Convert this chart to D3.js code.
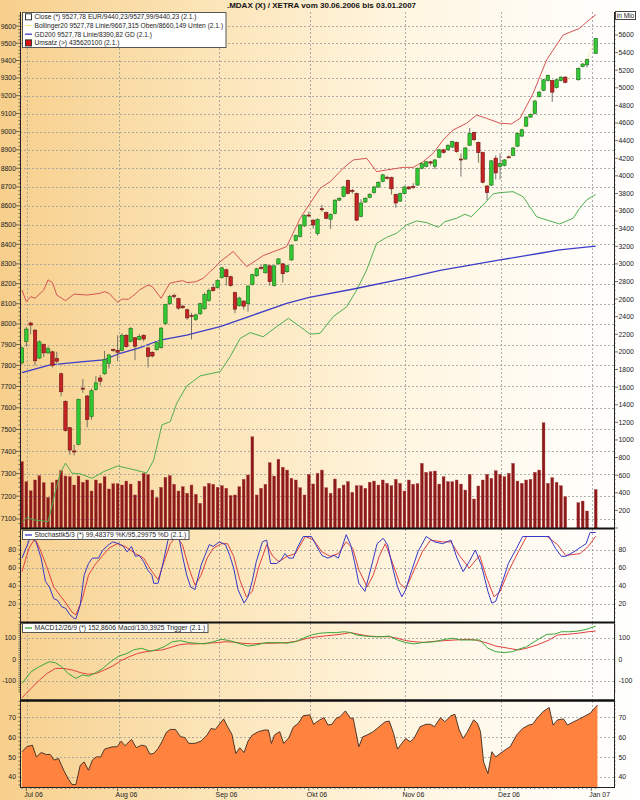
<!DOCTYPE html>
<html><head><meta charset="utf-8">
<script src="https://cdn.jsdelivr.net/npm/d3@7/dist/d3.min.js"></script>
<style>body{margin:0;background:#fff}svg{display:block}text{font-family:"Liberation Sans",Arial,sans-serif}</style>
</head><body><svg id="c" width="640" height="800"></svg>
<script>
// weekday index 0 = 30.06.2006 ... 132 = 02.01.2007 ; null = no trading (25./26.12., 01.01.)
const open=[7812,7915,8005,7970,7835,7900,7860,7865,7833,7760,7630,7508,7402,7432,7692,7655,7560,7685,7740,7760,7810,7877,7872,7872,7945,7915,7933,7925,7945,7884,7863,7875,7885,8002,8100,8140,8125,8088,8070,8042,8022,8050,8075,8115,8180,8180,8230,8270,8235,8155,8090,8113,8100,8195,8240,8282,8255,8290,8190,8300,8300,8260,8320,8420,8440,8495,8552,8525,8455,8585,8565,8530,8560,8630,8650,8735,8682,8665,8545,8620,8645,8670,8700,8730,8752,8750,8660,8625,8665,8700,8702,8710,8800,8810,8835,8810,8860,8900,8900,8915,8940,8850,8850,8925,8995,8940,8885,8705,8710,8855,8810,8815,8862,8870,8920,8975,9030,9080,9100,9195,9230,9285,9285,9245,9285,9305,null,null,9290,9365,9375,null,9440.23];
const high=[7890,7985,8010,7975,7920,7905,7890,7870,7865,7765,7635,7510,7430,7642,7735,7660,7690,7750,7755,7870,7855,7880,7945,7955,7950,7985,7935,7950,7950,7890,7866,7915,7985,8100,8145,8150,8130,8095,8075,8055,8050,8105,8155,8175,8200,8222,8285,8275,8240,8160,8135,8118,8192,8250,8280,8295,8300,8295,8295,8330,8305,8295,8400,8450,8505,8555,8570,8530,8535,8605,8570,8560,8635,8645,8705,8740,8690,8670,8635,8645,8668,8705,8730,8770,8760,8755,8665,8670,8705,8705,8720,8805,8830,8840,8840,8850,8905,8905,8930,8950,8945,8880,8915,9020,9000,8945,8890,8710,8845,8870,8880,8850,8868,8915,8995,9015,9085,9100,9175,9225,9295,9320,9290,9295,9310,9310,null,null,9360,9385,9410,null,9527.99];
const low=[7805,7890,7950,7800,7830,7840,7855,7790,7810,7653,7490,7385,7382,7428,7670,7510,7545,7680,7705,7755,7785,7865,7820,7868,7885,7910,7826,7920,7915,7790,7838,7870,7880,7995,8095,8125,8070,8075,8020,7925,8015,8045,8070,8110,8160,8175,8225,8190,8185,8053,8085,8070,8060,8190,8235,8270,8250,8190,8185,8295,8205,8255,8315,8415,8435,8490,8540,8480,8445,8570,8530,8480,8555,8625,8645,8660,8665,8520,8540,8615,8640,8665,8695,8725,8740,8660,8590,8620,8660,8685,8690,8705,8795,8805,8815,8795,8855,8880,8895,8910,8885,8755,8845,8920,8950,8830,8720,8630,8705,8740,8740,8810,8855,8865,8915,8970,9025,9075,9095,9190,9225,9280,9165,9240,9280,9270,null,null,9285,9360,9360,null,9440.23];
const close=[7884,7975,7995,7822,7913,7860,7880,7800,7820,7675,7495,7406,7398,7640,7688,7545,7680,7717,7725,7828,7850,7873,7863,7945,7890,7978,7892,7940,7927,7843,7845,7910,7980,8097,8135,8135,8078,8080,8030,8038,8045,8100,8145,8165,8165,8215,8280,8235,8190,8073,8128,8088,8188,8245,8275,8280,8295,8210,8290,8325,8250,8290,8395,8445,8500,8550,8550,8500,8528,8582,8535,8555,8630,8640,8700,8665,8678,8525,8615,8640,8660,8700,8725,8765,8748,8690,8615,8665,8700,8690,8698,8800,8825,8835,8828,8845,8900,8885,8925,8945,8890,8848,8910,8990,8955,8885,8725,8670,8840,8775,8825,8845,8860,8910,8990,9010,9080,9095,9170,9220,9290,9315,9220,9290,9305,9275,null,null,9355,9380,9405,null,9527.78];
// Umsatz in Mio
const volume=[753,526,423,545,594,514,348,514,545,650,590,582,488,590,519,545,420,545,507,582,443,503,503,488,533,499,375,533,621,605,431,344,462,575,594,496,420,469,394,488,382,280,469,507,496,462,480,451,367,375,469,553,602,1036,375,451,496,741,590,780,689,658,564,545,457,375,609,500,621,658,457,394,556,451,488,526,405,480,480,451,519,533,488,545,507,480,553,507,420,545,496,503,734,632,639,647,499,582,526,526,545,499,431,609,329,477,545,609,564,650,609,582,621,734,533,507,545,553,632,658,1195,507,571,519,480,355,null,null,287,306,193,null,435.62];
// [weekday index, value]
const bbUpper=[[0,8168],[1,8110],[2,8135],[3,8127],[5,8168],[6,8219],[7,8205],[8,8143],[10,8115],[12,8148],[15,8143],[18,8152],[19,8160],[20,8152],[22,8107],[23,8123],[24.5,8122],[26,8147],[27,8168],[29,8193],[30,8185],[32,8127],[34,8202],[35.6,8210],[37,8215],[38,8205],[40,8210],[41.7,8227],[43.3,8261],[44.4,8283],[45.6,8311],[48.6,8363],[51.7,8286],[55.5,8342],[60.9,8388],[64,8535],[66.3,8614],[68.6,8693],[70.9,8728],[73.9,8800],[76.2,8845],[79.3,8854],[81.6,8782],[83.9,8791],[87.7,8805],[90,8805],[92.3,8836],[94.6,8881],[96.9,8954],[99.2,9009],[102.3,9046],[104.6,9092],[106.9,9073],[110,9046],[112.6,9042],[114.6,9073],[117.6,9213],[120.7,9403],[124.5,9548],[128.3,9587],[130,9626],[132,9667.3]];
const bbLower=[[0,7085],[1.2,7107],[2.7,7096],[4.6,7092],[6,7089],[6.5,7125],[7.7,7223],[8.8,7302],[10,7347],[11.5,7302],[13.4,7299],[16.1,7279],[18.8,7309],[22,7334],[24.4,7324],[28.7,7303],[30.3,7361],[32.2,7521],[34.1,7536],[35.6,7621],[37.9,7702],[41,7750],[45.6,7770],[47.9,7842],[50.2,7930],[52.5,7958],[55.5,7938],[58.6,7987],[61.3,8028],[64,7987],[66.3,7950],[68.6,7955],[71.6,8036],[74.7,8085],[77,8168],[79.3,8269],[81.6,8405],[83.9,8436],[86.2,8457],[88.5,8500],[90.8,8521],[93.1,8512],[95.8,8488],[97.3,8517],[100,8535],[101.9,8556],[103.4,8543],[106.1,8605],[108.4,8663],[110,8670],[113,8675],[115.3,8648],[118.4,8543],[120.7,8526],[123.7,8505],[126.8,8535],[128.3,8587],[129.9,8631],[132,8660.1]];
const gd200=[[0,7765],[6.5,7802],[14.2,7818],[18.8,7826],[22.6,7858],[27.2,7885],[31.8,7922],[37.9,7946],[41,7963],[45.6,7987],[53.2,8044],[60.9,8102],[66.1,8132],[76,8172],[88.1,8227],[96.2,8267],[110,8320],[119.2,8354],[123.7,8371],[132,8390.8]];
const stochK=[[0,71],[2,95],[3.3,88],[4.4,71],[5.4,45],[6.3,39],[7.3,26],[8.2,24],[9.1,17],[10.1,15],[11,8],[12,4],[12.4,3.5],[13.4,19],[14.3,52],[15.3,65],[16.2,71],[17.6,71],[18.6,80],[20,86],[20.9,89],[22.3,87],[23.3,84],[24.2,78],[25.2,84],[26.1,73],[27,74],[28,67],[28.9,58],[29.9,52],[30.3,43],[31.3,43],[32.2,60],[33.6,91],[34.6,98],[36,97],[36.9,74],[37.9,52],[38.8,39],[39.8,36],[41.2,63],[42.1,74],[43.1,86],[44,84],[45.4,89],[46.8,86],[47.8,74],[48.7,60],[49.7,36],[51.1,21],[52,28],[53,46],[53.9,67],[55.3,89],[56.3,91],[57.2,65],[58.6,65],[59.6,69],[60.5,76],[61.4,71],[62.4,71],[63.3,82],[64.7,95],[66.6,95],[67.6,86],[69,74],[70.4,71],[71.8,74],[72.8,71],[74.6,97],[75.6,86],[76.5,67],[77.5,43],[78.9,34],[80.3,60],[81.7,87],[83.1,93],[84.1,86],[85.5,56],[86.4,39],[87.4,28],[88.3,36],[89.3,52],[91.1,78],[93,95],[94.9,89],[96.8,87],[98.7,91],[100.1,71],[101.5,56],[102.9,67],[104.3,80],[105.7,63],[107.2,34],[108.1,21],[109,23],[110.5,44],[111.9,65],[113.8,82],[115.2,95],[118.5,95],[121.3,95],[122.7,82],[124.1,73],[125.1,73],[127,78],[128.8,84],[129.8,87],[130.7,99.5],[132,99.48]];
const stochD=[[0,56],[1.6,82],[3,93],[4.4,78],[5.8,60],[7.3,39],[8.7,30],[10.1,21],[11.5,11],[12.4,8],[13.9,26],[15.3,52],[16.7,63],[18.6,74],[20,82],[21.9,87],[23.7,84],[26.1,76],[28,71],[29.9,56],[31.3,47],[32.7,67],[34.1,87],[35.5,95],[36.9,86],[38.4,60],[39.8,41],[41.2,52],[42.6,71],[44,82],[45.9,87],[47.3,87],[48.7,73],[50.1,47],[51.6,28],[53,34],[54.4,60],[56.3,86],[57.7,73],[59.1,67],[61,73],[62.9,76],[65.2,95],[67.1,91],[69,78],[70.9,73],[72.8,76],[74.6,89],[76.1,82],[77.5,58],[79.4,39],[80.8,52],[82.2,73],[83.6,87],[85,69],[86.9,43],[88.3,37],[89.7,52],[92.1,78],[94,91],[96.8,89],[98.7,89],[100.6,74],[102.9,60],[105.3,74],[106.7,52],[108.6,28],[110,34],[111.9,56],[114.2,78],[116.1,95],[120.8,95],[123.2,86],[125.1,74],[128.4,76],[130.3,84],[132,95.3]];
const macd=[[0,-111],[2.1,-57],[4,-34],[6.3,-11],[7.7,-16],[9.1,-34],[10.6,-65],[12.4,-88],[13.9,-72],[15.3,-77],[16.7,-65],[18.6,-42],[20.4,-11],[22.3,15],[24.2,27],[25.6,43],[27.5,51],[29.4,38],[30.8,43],[32.7,58],[34.6,81],[36.5,86],[38.4,77],[40.2,74],[42.1,71],[44,81],[45.9,92],[47.8,86],[49.7,74],[52,61],[53.9,66],[56.3,77],[59.1,77],[61,74],[62.9,81],[64.7,97],[66.6,112],[68.5,120],[70.4,123],[72.3,123],[74.2,127],[75.6,123],[77,112],[78.9,107],[80.8,104],[82.7,104],[84.5,107],[86.4,89],[88.3,77],[90.2,71],[92.1,77],[94.9,81],[97.3,92],[99.1,97],[101,89],[103.4,89],[105.3,89],[107.2,51],[109,35],[110.9,31],[112.8,35],[114.2,46],[116.1,58],[118.5,89],[120.8,115],[122.7,117],[124.1,127],[126,127],[127.9,130],[129.8,138],[132,152.86]];
const trigger=[[0,-177],[2.1,-134],[4,-96],[5.8,-65],[7.7,-42],[9.6,-42],[11.5,-49],[13.4,-61],[15.3,-69],[17.1,-65],[19,-49],[20.9,-31],[22.8,-6],[24.7,12],[26.6,27],[28.5,35],[30.3,40],[32.2,43],[34.1,54],[36,66],[37.9,71],[40.2,71],[42.6,74],[45,77],[46.8,81],[48.7,79],[50.6,74],[53,71],[55.3,74],[58.1,74],[61,77],[63.3,84],[65.7,97],[68,104],[70.4,109],[73.2,115],[75.6,123],[77.5,115],[79.8,107],[82.2,104],[84.5,104],[86.4,97],[88.3,86],[90.2,81],[92.5,78],[94.9,83],[97.3,86],[99.6,89],[102.4,92],[104.3,89],[106.7,77],[109,61],[111.9,51],[114.2,43],[116.1,51],[118.5,66],[121.3,89],[123.2,112],[125.5,115],[127.9,120],[130.3,127],[132,130.39]];
const osc=[[0,52.7],[1.1,55.2],[2.4,56],[3.3,50.1],[4.4,52.3],[5.6,51.3],[6.5,51.3],[7.4,48.5],[8.4,49.3],[9.6,43.4],[10.6,39.2],[11.5,36.2],[12.4,36.2],[13.4,45.9],[14.3,47.6],[15.3,43.4],[16.2,48.5],[17.1,50.1],[18.1,50.1],[19,54],[20,54.7],[20.9,55.2],[21.9,55.2],[22.8,58],[23.7,55.7],[25.2,58.9],[26.3,54.7],[27.5,56],[28.5,55.5],[29.4,51.5],[30.3,51.8],[31.3,54.3],[32.2,57.7],[33.2,62.4],[34.1,63.9],[35.3,63.9],[36.5,60.2],[37.4,59.9],[38.4,56.9],[39.8,56.9],[41.2,58],[42.6,61.1],[43.5,64.4],[44.5,63.9],[45.4,66.5],[46.4,69.2],[47.3,65.3],[48.3,61.4],[49.2,51.8],[50.1,54.7],[51.1,52.3],[52,58],[53,61.1],[54.4,62.8],[55.8,63.6],[56.7,63.6],[57.4,56.9],[58.1,61.1],[59.3,62.8],[60.2,56.9],[61.4,59.7],[62.4,65],[63.6,67],[64.7,70.8],[66.2,71.2],[67.1,66.5],[68.5,68.7],[69.5,69.8],[70.4,66.1],[71.3,66.5],[72.3,69.5],[73.2,70.3],[74.4,73.2],[75.6,69.5],[76.2,69.5],[77.5,55.2],[78.4,60.2],[79.4,61.1],[80.8,62.8],[82.2,65.3],[83.6,67.8],[84.5,68.1],[85.5,61.9],[86.4,54],[87.4,56.9],[88.3,59.4],[89.3,57.7],[90.2,59.4],[91.6,65.3],[93,66.5],[94,66.5],[94.9,65.3],[96.3,69.8],[97.3,67.8],[98.7,70.8],[99.6,71.5],[100.6,63.6],[101.5,59.4],[102.4,62.4],[103.9,68.7],[104.8,67],[105.5,62.8],[106.2,47.6],[107.2,41.7],[108.1,52.7],[109,50.1],[110,51.8],[111.4,54],[112.3,55.2],[113.8,61.1],[115.2,64.4],[116.6,66.1],[117.5,66.5],[118.5,69.5],[119.9,72.9],[121.3,74.9],[122.2,66.1],[123.2,68.7],[124.6,69.2],[125.5,66.1],[127,67.8],[128.8,69.8],[130.7,72],[132.4,76.2]];
const monthIdx=[1,22,45,66,88,110,131];
const monthLabels=["Jul 06","Aug 06","Sep 06","Okt 06","Nov 06","Dez 06","Jan 07"];
const priceTicks=d3.range(7100,9601,100);
const volTicks=d3.range(200,5601,200);
const stochTicks=[20,40,60,80], macdTicks=[-100,0,100], oscTicks=[40,50,60,70];

const svg=d3.select("#c");
const PL=20, PR=614;
const P={main:[12,528],stoch:[529,622],macd:[623,700],osc:[701,787]};
const defs=svg.append("defs");
const g=defs.append("linearGradient").attr("id","bg").attr("x1",0).attr("x2",1).attr("y1",0).attr("y2",0);
[[0,"#f7cf8c"],[0.3,"#fbe3b4"],[0.65,"#fff6e2"],[0.9,"#fffdf8"],[1,"#ffffff"]].forEach(s=>g.append("stop").attr("offset",s[0]).attr("stop-color",s[1]));
svg.append("rect").attr("width",640).attr("height",800).attr("fill","url(#bg)");

const x=d3.scaleLinear().domain([0,132]).range([22,595.7]);
const yP=d3.scaleLog().domain([7100,9300]).range([519,78]);
const yV=d3.scaleLinear().domain([0,5600]).range([528,35]);
const yS=d3.scaleLinear().domain([0,100]).range([622,532]);
const yM=d3.scaleLinear().domain([-100,100]).range([681,637.6]);
const yO=d3.scaleLinear().domain([40,70]).range([777,717.3]);

const grid=svg.append("g").attr("stroke","#9a9a9a").attr("stroke-width",0.8).attr("stroke-dasharray","2,2");
function hgrid(scale,vals){vals.forEach(v=>grid.append("line").attr("x1",PL).attr("x2",PR).attr("y1",Math.round(scale(v))+0.5).attr("y2",Math.round(scale(v))+0.5));}
hgrid(yP,priceTicks);hgrid(yS,stochTicks);hgrid(yM,macdTicks);hgrid(yO,oscTicks);
Object.values(P).forEach(([t,b])=>monthIdx.forEach(m=>grid.append("line").attr("x1",Math.round(x(m))+1.5).attr("x2",Math.round(x(m))+1.5).attr("y1",t).attr("y2",b)));

// volume
svg.append("g").selectAll("rect").data(volume.map((v,i)=>[i,v]).filter(d=>d[1]!=null)).join("rect")
 .attr("x",d=>x(d[0])-1.4).attr("width",2.8).attr("y",d=>yV(d[1])).attr("height",d=>528-yV(d[1]))
 .attr("fill","#8c1a1a").attr("stroke","#a83a3a").attr("stroke-width",0.4);

const line=(ys)=>d3.line().x(d=>x(d[0])).y(d=>ys(d[1]));
svg.append("path").attr("d",line(yP)(bbUpper)).attr("fill","none").attr("stroke","#d45454").attr("stroke-width",1);
svg.append("path").attr("d",line(yP)(bbLower)).attr("fill","none").attr("stroke","#4fae4f").attr("stroke-width",1);
svg.append("path").attr("d",line(yP)(gd200)).attr("fill","none").attr("stroke","#3d3dc8").attr("stroke-width",1.3);
const closes=close.map((c,i)=>[i,c]).filter(d=>d[1]!=null);
svg.append("path").attr("d",line(yP)(closes)).attr("fill","none").attr("stroke","#f2eca0").attr("stroke-width",0.8);

// candles
const cg=svg.append("g");
open.forEach((o,i)=>{
 if(o==null)return;
 const c=close[i],up=c>=o,cx=x(i);
 cg.append("line").attr("x1",cx).attr("x2",cx).attr("y1",yP(high[i])).attr("y2",yP(low[i])).attr("stroke","#555").attr("stroke-width",0.8);
 const y1=yP(Math.max(o,c)),y2=yP(Math.min(o,c));
 cg.append("rect").attr("x",cx-1.7).attr("width",3.4).attr("y",y1).attr("height",Math.max(1,y2-y1))
  .attr("fill",up?"#33c933":"#c42424").attr("stroke",up?"#1d6d1d":"#6e1212").attr("stroke-width",0.6);
});

// lower panels
svg.append("path").attr("d",line(yS)(stochD)).attr("fill","none").attr("stroke","#e04040").attr("stroke-width",1);
svg.append("path").attr("d",line(yS)(stochK)).attr("fill","none").attr("stroke","#3737c8").attr("stroke-width",1);
svg.append("path").attr("d",line(yM)(trigger)).attr("fill","none").attr("stroke","#e04040").attr("stroke-width",1);
svg.append("path").attr("d",line(yM)(macd)).attr("fill","none").attr("stroke","#3aa83a").attr("stroke-width",1);
const area=d3.area().x(d=>x(d[0])).y0(787).y1(d=>yO(d[1]));
svg.append("path").attr("d",area(osc)).attr("fill","#ff823f");
svg.append("path").attr("d",line(yO)(osc)).attr("fill","none").attr("stroke","#3a2a20").attr("stroke-width",0.9);

// separators and axes
[[528.5,2],[622.5,2],[700.5,2.5]].forEach(([y,w])=>svg.append("line").attr("x1",PL).attr("x2",PR).attr("y1",y).attr("y2",y).attr("stroke","#111").attr("stroke-width",w));
svg.append("line").attr("x1",PL).attr("x2",PR).attr("y1",787.5).attr("y2",787.5).attr("stroke","#222");
[PL,PR].forEach(xx=>svg.append("line").attr("x1",xx+0.5).attr("x2",xx+0.5).attr("y1",12).attr("y2",788).attr("stroke","#222"));
const ax=svg.append("g").attr("stroke","#333").attr("stroke-width",0.7);
d3.range(7080,9680,20).forEach(v=>{const y=yP(v);if(y<12)return;ax.append("line").attr("x1",PL-(v%100?1.5:4)).attr("x2",PL).attr("y1",y).attr("y2",y);});
d3.range(0,5800,50).forEach(v=>{const y=yV(v);if(y<20)return;ax.append("line").attr("x1",PR).attr("x2",PR+(v%200?1.5:4)).attr("y1",y).attr("y2",y);});
[[yS,d3.range(0,101,5),P.stoch],[yM,d3.range(-150,161,10),P.macd],[yO,d3.range(36,79,2),P.osc]].forEach(([s,vals,[t,b]])=>vals.forEach(v=>{const y=s(v);if(y<t||y>b)return;
 ax.append("line").attr("x1",PL-1.5).attr("x2",PL).attr("y1",y).attr("y2",y);ax.append("line").attr("x1",PR).attr("x2",PR+1.5).attr("y1",y).attr("y2",y);}));
d3.range(0,133).forEach(i=>ax.append("line").attr("x1",x(i)).attr("x2",x(i)).attr("y1",787).attr("y2",monthIdx.includes(i)?791:789));

const tx=svg.append("g").attr("font-size","6.9px").attr("fill","#222");
function labels(scale,vals,left,right){vals.forEach(v=>{const y=scale(v);
 if(left)tx.append("text").attr("x",PL-4).attr("y",y).attr("dy","0.35em").attr("text-anchor","end").text(v);
 if(right)tx.append("text").attr("x",PR+4.5).attr("y",y).attr("dy","0.35em").text(v);});}
labels(yP,priceTicks,true,false);
labels(yV,volTicks,false,true);
labels(yS,stochTicks,true,true);
labels(yM,macdTicks,true,true);
labels(yO,oscTicks,true,true);
monthIdx.forEach((m,k)=>tx.append("text").attr("x",x(m)-2).attr("y",797).text(monthLabels[k]));

svg.append("text").attr("x",321.5).attr("y",8).attr("text-anchor","middle").attr("font-size","8px").attr("font-weight","bold").attr("fill","#111").text(".MDAX (X) / XETRA vom 30.06.2006 bis 03.01.2007");

// legends
const lg=svg.append("g").attr("fill","#222");
const box=lg.append("rect").attr("x",22.5).attr("y",12.5).attr("height",35).attr("fill","#fff").attr("stroke","#555");
const items=[["sq","Close (*) 9527,78 EUR/9440,23/9527,99/9440,23 (2.1.)","#fff"],["ln","Bollinger20 9527,78 Linie/9667,315 Oben/8660,149 Unten (2.1.)","#f4ec9a"],["ln","GD200 9527,78 Linie/8390,82 GD (2.1.)","#3d3dc8"],["sq","Umsatz (>) 435620100 (2.1.)","#e01010"]];
const texts=[];
items.forEach((it,k)=>{const yy=16.8+k*8.7;
 if(it[0]=="sq")lg.append("rect").attr("x",25.5).attr("y",yy-3).attr("width",6).attr("height",6).attr("fill",it[2]).attr("stroke","#333");
 else lg.append("line").attr("x1",25).attr("x2",32).attr("y1",yy).attr("y2",yy).attr("stroke",it[2]).attr("stroke-width",1.3);
 texts.push(lg.append("text").attr("x",34.5).attr("y",yy).attr("dy","0.35em").attr("font-size","8px").text(it[1]));});
// fit main legend text to the box width seen in the chart (right edge ~226)
const mw=d3.max(texts,t=>t.node().getComputedTextLength());
const fs=Math.min(9,8*189/mw);
texts.forEach(t=>t.attr("font-size",fs+"px"));
box.attr("width",226-22.5);
function boxLegend(y,col,txt,right){const r=lg.append("rect").attr("x",22.5).attr("y",y).attr("height",9).attr("width",right-22.5).attr("fill","#fff").attr("stroke","#555");
 lg.append("line").attr("x1",25).attr("x2",32).attr("y1",y+4.5).attr("y2",y+4.5).attr("stroke",col).attr("stroke-width",1.3);
 const t=lg.append("text").attr("x",34.5).attr("y",y+4.6).attr("dy","0.35em").attr("font-size","8px").text(txt);
 const w=t.node().getComputedTextLength();t.attr("font-size",Math.min(8,8*(right-37)/w)+"px");}
boxLegend(530.5,"#3737c8","Stochastik5/3 (*) 99,48379 %K/95,29975 %D (2.1.)",189);
boxLegend(623.5,"#3aa83a","MACD12/26/9 (*) 152,8606 Macd/130,3925 Trigger (2.1.)",208);
lg.append("rect").attr("x",615.5).attr("y",11.5).attr("width",20).attr("height",8).attr("fill","#fff").attr("stroke","#444");
lg.append("text").attr("x",625.5).attr("y",15.5).attr("dy","0.35em").attr("text-anchor","middle").attr("font-size","6.6px").text("in Mio");
</script></body></html>
